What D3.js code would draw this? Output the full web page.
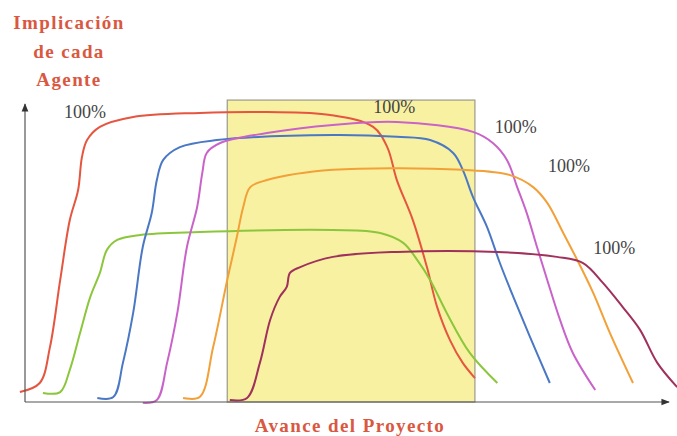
<!DOCTYPE html>
<html lang="es">
<head>
<meta charset="utf-8">
<title>Implicación de cada Agente</title>
<script src="https://d3js.org/d3.v7.min.js"></script>
<style>
  body { margin: 0; background: #fff; }
  svg { display: block; }
</style>
</head>
<body>
<div id="chart"></div>
<script>
// values: progress (0-100) and implication (0-100)
var agents = ["rojo", "verde", "azul", "violeta", "naranja", "granate"];
var agentColors = ["#e5553f", "#8cc63c", "#4a78c4", "#c963c9", "#f2a038", "#a0305c"];

var redX = [-0.8, 2.3, 3.9, 5.5, 7.0, 8.3, 8.9, 9.7, 11.7, 16.9, 27.3, 37.8, 47.7, 54.4, 56.6, 58.1, 60.6, 62.8, 64.4, 66.4, 68.4, 70.3];
var redY = [3.4, 6.5, 18.8, 41.8, 62.3, 72.6, 83.9, 89.7, 94.2, 97.6, 99.0, 99.3, 98.3, 94.2, 87.3, 76.0, 62.3, 46.2, 32.5, 21.2, 13.4, 8.2];

var greenX = [2.8, 5.5, 7.0, 8.6, 10.2, 11.7, 12.8, 14.4, 18.0, 27.3, 48.1, 55.5, 59.1, 61.3, 63.3, 65.9, 69.5, 73.8];
var greenY = [3.1, 3.4, 11.0, 23.6, 36.0, 44.2, 52.1, 55.5, 57.2, 58.2, 58.9, 57.9, 54.5, 48.6, 41.8, 30.5, 16.8, 6.5];

var blueX = [11.3, 13.8, 15.3, 16.9, 18.4, 19.8, 20.6, 21.6, 24.2, 30.0, 48.1, 58.1, 63.3, 66.9, 68.4, 70.0, 72.2, 74.2, 76.3, 78.9, 82.0];
var blueY = [1.4, 1.7, 13.4, 30.5, 53.1, 64.7, 76.0, 82.9, 87.3, 89.7, 91.4, 90.8, 89.7, 85.3, 79.5, 70.2, 59.9, 47.6, 36.0, 22.3, 6.5];

var violetX = [18.4, 20.6, 22.2, 23.8, 25.3, 26.9, 27.7, 28.4, 30.5, 37.8, 48.1, 58.1, 70.0, 73.1, 75.3, 76.9, 78.4, 80.0, 81.6, 83.6, 85.6, 89.1];
var violetY = [-0.3, 0.7, 13.4, 30.5, 53.1, 66.8, 78.4, 85.3, 88.7, 92.1, 94.9, 95.9, 92.5, 88.7, 82.9, 73.6, 64.7, 53.1, 41.8, 28.1, 16.8, 4.1];

var orangeX = [24.7, 27.3, 29.4, 31.6, 33.1, 34.1, 35.2, 37.8, 48.1, 68.4, 75.8, 79.4, 81.6, 84.1, 86.3, 88.8, 91.4, 95.0];
var orangeY = [1.4, 1.7, 18.8, 41.8, 56.5, 66.8, 73.6, 76.0, 79.5, 79.5, 77.7, 73.6, 68.2, 57.9, 48.6, 37.3, 23.6, 6.5];

var maroonX = [32.0, 34.7, 36.7, 38.3, 39.8, 40.9, 41.4, 43.0, 48.1, 58.1, 73.8, 83.1, 87.2, 90.3, 93.4, 96.1, 98.8, 101.9];
var maroonY = [0.7, 1.4, 13.4, 28.1, 36.0, 39.4, 44.2, 46.2, 49.7, 51.4, 51.4, 49.7, 47.6, 40.8, 32.5, 24.7, 13.4, 5.1];

// highlighted phase of the project
var phaseStart = 31.6, phaseEnd = 70.3, phaseTop = 103.4;

// "100%" annotations
var labelText = ["100%", "100%", "100%", "100%", "100%"];
var labelX = [6.1, 54.4, 73.4, 81.7, 88.8];
var labelY = [97.2, 99.0, 92.1, 78.8, 50.7];

var seriesX = [redX, greenX, blueX, violetX, orangeX, maroonX];
var seriesY = [redY, greenY, blueY, violetY, orangeY, maroonY];

var width = 677, height = 436;

var svg = d3.select("#chart")
    .append("svg")
    .attr("width", width)
    .attr("height", height);

var x = d3.scaleLinear().domain([0, 100]).range([25, 665]);
var y = d3.scaleLinear().domain([0, 100]).range([402, 110]);

//arrow head
svg.append("defs").append("marker")
    .attr("id", "arrow")
    .attr("viewBox", "0 0 10 10")
    .attr("refX", 9).attr("refY", 5)
    .attr("markerWidth", 7).attr("markerHeight", 7)
    .attr("orient", "auto")
    .append("path")
    .attr("d", "M0,1 L10,5 L0,9 z")
    .attr("fill", "#333");

//yellow box
svg.append("rect")
    .attr("x", x(phaseStart))
    .attr("y", y(phaseTop))
    .attr("width", x(phaseEnd) - x(phaseStart))
    .attr("height", y(0) - y(phaseTop))
    .attr("fill", "#f8f1a2")
    .attr("stroke", "#9a9a8a")
    .attr("stroke-width", 1.2);

var line = d3.line()
    .x(function(d){ return x(d[0]); })
    .y(function(d){ return y(d[1]); })
    .curve(d3.curveCatmullRom.alpha(0.5));

agents.forEach(function(name, i){
    var pts = seriesX[i].map(function(v, j){ return [v, seriesY[i][j]]; });
    svg.append("path")
        .datum(pts)
        .attr("class", "agent " + name)
        .attr("d", line)
        .attr("fill", "none")
        .attr("stroke", agentColors[i])
        .attr("stroke-width", 2)
        .attr("stroke-linejoin", "round");
});

//axes
svg.append("line")
    .attr("x1", x(0)).attr("y1", y(0))
    .attr("x2", x(0)).attr("y2", y(100) - 6)
    .attr("stroke", "#555").attr("stroke-width", 1.2)
    .attr("marker-end", "url(#arrow)");

svg.append("line")
    .attr("x1", x(0)).attr("y1", y(0))
    .attr("x2", x(100) + 4).attr("y2", y(0))
    .attr("stroke", "#555").attr("stroke-width", 1.2)
    .attr("marker-end", "url(#arrow)");

//100% labels
svg.selectAll(".lbl")
    .data(labelText)
    .enter()
    .append("text")
    .attr("class", "lbl")
    .attr("x", function(d, i){ return x(labelX[i]); })
    .attr("y", function(d, i){ return y(labelY[i]); })
    .attr("font-family", "Liberation Serif, Times New Roman, serif")
    .attr("font-size", 18)
    .attr("fill", "#444")
    .text(function(d){ return d; });

//titles
var title = svg.append("text")
    .attr("text-anchor", "middle")
    .attr("font-family", "Liberation Serif, Times New Roman, serif")
    .attr("font-weight", "bold")
    .attr("font-size", 19)
    .attr("letter-spacing", 1.4)
    .attr("fill", "#d9583f");
["Implicación", "de cada", "Agente"].forEach(function(t, i){
    title.append("tspan")
        .attr("x", 69)
        .attr("y", 29 + i * 28.5)
        .text(t);
});

svg.append("text")
    .attr("x", 350)
    .attr("y", 432)
    .attr("text-anchor", "middle")
    .attr("font-family", "Liberation Serif, Times New Roman, serif")
    .attr("font-weight", "bold")
    .attr("font-size", 19)
    .attr("letter-spacing", 1.4)
    .attr("fill", "#d9583f")
    .text("Avance del Proyecto");
</script>
</body>
</html>
